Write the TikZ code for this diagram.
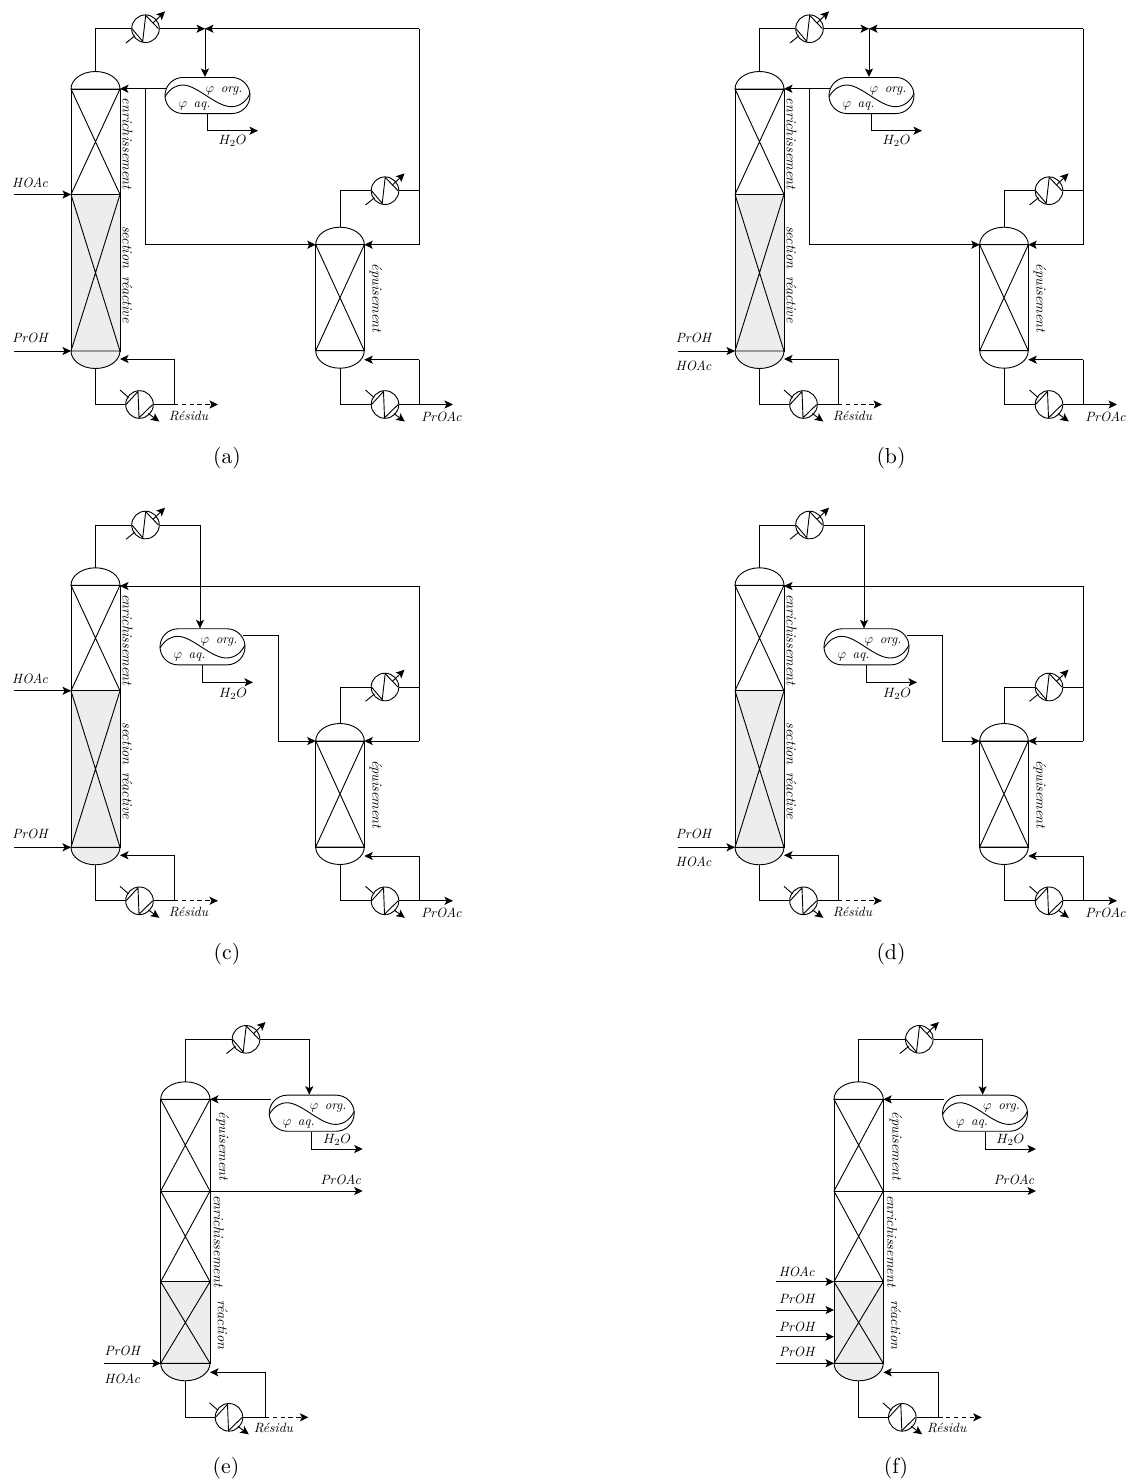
\documentclass[tikz,border=0pt]{standalone}
\usetikzlibrary{arrows.meta,shapes.misc}
\newcommand\HL[1]{\scalebox{.62}{\normalsize\itshape #1}}
\newcommand\VL[1]{\scalebox{.65}{\normalsize\itshape #1}}
\newcommand\DL[2]{\scalebox{.6}{\normalsize\itshape $\varphi$\hspace{.5em}#1}}
\tikzset{
  pipe/.style={line width=.42pt},
  arr/.style={pipe,-{Stealth[length=3.9pt,width=3.7pt,inset=.9pt]}},
  dasharr/.style={arr,dash pattern=on 2pt off 1.6pt},
  hx/.style={circle,draw,line width=.42pt,minimum size=12.7pt,inner sep=0pt},
  decanter/.style={rounded rectangle,draw,line width=.42pt,minimum width=39.1pt,minimum height=16.6pt,inner sep=0pt},
  lab/.style={inner sep=0pt},
  vlab/.style={lab,rotate=-90},
  captext/.style={font=\normalsize,inner sep=0pt},
  react/.style={fill=black!7}
}
% column shell: name, xl, xr, ytan, ybot, bottom fill style
\newcommand\ColShell[6]{%
  \pgfmathsetmacro\cx{(#2+#3)/2}\pgfmathsetmacro\rx{(#3-#2)/2}%
  \draw[pipe,#6] (#2,#5) .. controls (#2,#5+9.7) and (\cx-13.5,#5+17.5) .. (\cx,#5+17.5)
     .. controls (\cx+13.5,#5+17.5) and (#3,#5+9.7) .. (#3,#5) -- cycle;
  \draw[pipe] (#2,#4) .. controls (#2,#4-9.7) and (\cx-13.5,#4-17.5) .. (\cx,#4-17.5)
     .. controls (\cx+13.5,#4-17.5) and (#3,#4-9.7) .. (#3,#4) -- cycle;
  \coordinate (#1-top) at (\cx,#4-17.5);
  \coordinate (#1-bot) at (\cx,#5+17.5);
}
% packed section: xl, xr, y1, y2, style
\newcommand\Packed[5]{%
  \draw[pipe,#5] (#1,#3) rectangle (#2,#4);
  \draw[pipe] (#1,#3) -- (#2,#4) (#2,#3) -- (#1,#4);
}
\newcommand\Condenser[3]{%
  \node[hx] (#1) at (#2,#3) {};
  \begin{scope}[shift={(#2,#3)}]
    \draw[pipe] (-13.5,0) -- (-2.8,12.7) -- (0.2,-13.3) -- (13,0);
    \draw[pipe] (-19.5,14.3) -- (-10.5,7);
    \draw[arr] (7.5,-5.7) -- (19.5,-17.3);
  \end{scope}}
\newcommand\Reboiler[3]{%
  \node[hx] (#1) at (#2,#3) {};
  \begin{scope}[shift={(#2,#3)}]
    \draw[pipe] (-13.5,0) -- (-1.5,-13) -- (-0.5,13.3) -- (13.2,0);
    \draw[pipe] (-19.5,-14.5) -- (-11,-7);
    \draw[arr] (8.8,9) -- (19.8,17);
  \end{scope}}
\newcommand\Decanter[3]{%
  \node[decanter] (#1) at (#2,#3) {};
  \begin{scope}[shift={(#2,#3)}]
    \draw[pipe] (-42.5,1.2) .. controls (-37,-8) and (-30,-10.5) .. (-25,-10.5)
      .. controls (-10,-10.5) and (8,11.2) .. (24,11.2)
      .. controls (32,11.2) and (39,6) .. (42.5,-2);
    \node[lab] (#1-org) at (16.5,-5) {\DL{org.}{}};
    \node[lab] (#1-aq) at (-13,10.5) {\DL{aq.}{}};
  \end{scope}}
% reboiler loop of a column
\newcommand\BottomLoop[6]{% col, reb name, reb x, y, branch x, return y
  \Reboiler{#2}{#3}{#4}
  \coordinate (#2-br) at (#5,#4);
  \coordinate (#2-ret) at (#5,#6);
  \draw[pipe] (#1-bot) |- (#2.west);
  \draw[pipe] (#2.east) -- (#2-br) -- (#2-ret);
}
% common part of the two-column panels
\newcommand\TwoCol{%
  \Packed{71}{120}{89}{194.5}{}
  \Packed{71}{120}{194.5}{351}{react}
  \ColShell{c1}{71}{120}{89}{351}{react}
  \Packed{315.7}{364.3}{244.7}{350.7}{}
  \ColShell{c2}{315.7}{364.3}{244.7}{350.7}{}
  \node[vlab] (l1) at (127.5,143.5) {\VL{enrichissement}};
  \node[vlab] (l2) at (127.5,274.5) {\VL{section\hspace{.55em}r\'eactive}};
  \node[vlab] (l3) at (376,298) {\VL{\'epuisement}};
  \Condenser{k1}{145.5}{28.7}
  \draw[pipe] (c1-top) |- (k1.west);
  \Condenser{k2}{385}{190.7}
  \draw[pipe] (c2-top) |- (k2.west);
  \coordinate (v) at (419.3,190.7);
  \draw[pipe] (k2.east) -- (v);
  \coordinate (lo) at (419.3,244.7);
  \coordinate (c2r) at (364.3,244.7);
  \draw[arr] (lo) -- (c2r);
  \BottomLoop{c1}{r1}{139.5}{404.5}{174}{359}
  \coordinate (c1b) at (120,359);
  \draw[arr] (r1-ret) -- (c1b);
  \coordinate (res) at (218,404.5);
  \draw[dasharr] (r1-br) -- (res);
  \node[lab] (resl) at (188.5,415.7) {\HL{R\'esidu}};
  \BottomLoop{c2}{r2}{385}{404.5}{419.3}{359.7}
  \coordinate (c2b) at (364.3,359.7);
  \draw[arr] (r2-ret) -- (c2b);
  \coordinate (pr) at (453,404.5);
  \draw[arr] (r2-br) -- (pr);
  \node[lab] (prl) at (441.5,417) {\HL{PrOAc}};
}
% decanter on the column top (a, b)
\newcommand\PipingTop{%
  \Decanter{d}{207.5}{95.5}
  \coordinate (j) at (205,28.7);
  \coordinate (jr) at (419.3,28.7);
  \draw[arr] (k1.east) -- (j);
  \draw[pipe] (v) -- (lo);
  \draw[pipe] (v) -- (jr);
  \draw[arr] (jr) -- (j);
  \draw[arr] (j) -- (j |- d.north);
  \coordinate (do) at (166.3,88.8);
  \coordinate (c1r) at (120,88.8);
  \coordinate (bt) at (145,88.8);
  \coordinate (c2l) at (315.7,244.7);
  \draw[arr] (do) -- (c1r);
  \draw[arr] (bt) |- (c2l);
  \coordinate (w) at (258,130.7);
  \draw[arr] (d.south) |- (w);
  \node[lab] (wl) at (232.5,141) {\HL{$H_2O$}};
}
% decanter between the columns (c, d)
\newcommand\PipingMid{%
  \Decanter{d}{202.5}{150.5}
  \coordinate (j) at (200,28.7);
  \draw[arr] (k1.east) -| (j |- d.north);
  \coordinate (vt) at (419.3,89.7);
  \coordinate (c1r) at (120,89.7);
  \draw[pipe] (lo) -- (vt);
  \draw[arr] (vt) -- (c1r);
  \coordinate (do) at (243,139.4);
  \coordinate (m) at (278.3,139.4);
  \coordinate (c2l) at (315.7,244.7);
  \draw[arr] (do) -- (m) |- (c2l);
  \coordinate (w) at (253,186);
  \draw[arr] (d.south) |- (w);
  \node[lab] (wl) at (233,198) {\HL{$H_2O$}};
}
\newcommand\FeedSplit{%
  \coordinate (f1) at (14,194.5); \coordinate (f1e) at (71,194.5);
  \coordinate (f2) at (14,351); \coordinate (f2e) at (71,351);
  \draw[arr] (f1) -- (f1e);
  \draw[arr] (f2) -- (f2e);
  \node[lab] (hl) at (30,182.7) {\HL{HOAc}};
  \node[lab] (pl) at (30,338) {\HL{PrOH}};
}
\newcommand\FeedBottom{%
  \coordinate (f2) at (14,351); \coordinate (f2e) at (71,351);
  \draw[arr] (f2) -- (f2e);
  \node[lab] (pl) at (29.5,338) {\HL{PrOH}};
  \node[lab] (hl) at (29.5,365.7) {\HL{HOAc}};
}
% single column panels (e, f)
\newcommand\OneCol{%
  \Packed{71}{120.3}{1099.3}{1191}{}
  \Packed{71}{120.3}{1191}{1281.7}{}
  \Packed{71}{120.3}{1281.7}{1363.3}{react}
  \ColShell{c1}{71}{120.3}{1099.3}{1363.3}{react}
  \node[vlab] (l1) at (133,1146) {\VL{\'epuisement}};
  \node[vlab] (l2) at (129,1241) {\VL{enrichissement}};
  \node[vlab] (l3) at (133,1325) {\VL{r\'eaction}};
  \Condenser{k1}{156.3}{1039.3}
  \draw[pipe] (c1-top) |- (k1.west);
  \Decanter{d}{222}{1113.2}
  \coordinate (j) at (219.6,1039.3);
  \draw[arr] (k1.east) -| (j |- d.north);
  \coordinate (do) at (181,1099.3);
  \coordinate (c1r) at (120.3,1099.3);
  \draw[arr] (do) -- (c1r);
  \coordinate (w) at (273,1149);
  \draw[arr] (d.south) |- (w);
  \node[lab] (wl) at (247.3,1140) {\HL{$H_2O$}};
  \coordinate (ps) at (120.3,1191);
  \coordinate (pe) at (273,1191);
  \draw[arr] (ps) -- (pe);
  \node[lab] (prl) at (251,1180) {\HL{PrOAc}};
  \BottomLoop{c1}{r1}{139.3}{1417.3}{175.3}{1372.3}
  \coordinate (c1b) at (120.3,1372.3);
  \draw[arr] (r1-ret) -- (c1b);
  \coordinate (res) at (218.7,1417.3);
  \draw[dasharr] (r1-br) -- (res);
  \node[lab] (resl) at (183.7,1427.7) {\HL{R\'esidu}};
}
\begin{document}
\begin{tikzpicture}[x=.46pt,y=-.46pt]
\useasboundingbox (0,0) rectangle (1135,1484);
\begin{scope}[name prefix=a-]
  \TwoCol \PipingTop \FeedSplit
\end{scope}
\begin{scope}[name prefix=b-,shift={(664,0)}]
  \TwoCol \PipingTop
\end{scope}
\begin{scope}[name prefix=b-]
  \coordinate (f2) at (678,351); \coordinate (f2e) at (735,351);
  \draw[arr] (f2) -- (f2e);
  \node[lab] (pl) at (693.5,338) {\HL{PrOH}};
  \node[lab] (hl) at (693.5,365.7) {\HL{HOAc}};
\end{scope}
\begin{scope}[name prefix=c-,shift={(0,496.3)}]
  \TwoCol \PipingMid \FeedSplit
\end{scope}
\begin{scope}[name prefix=d-,shift={(664,496.3)}]
  \TwoCol \PipingMid \FeedBottom
\end{scope}
\begin{scope}[name prefix=e-,shift={(89.7,0)}]
  \OneCol
  \coordinate (f2) at (14.5,1363.3); \coordinate (f2e) at (71,1363.3);
  \draw[arr] (f2) -- (f2e);
  \node[lab] (pl) at (32.5,1351) {\HL{PrOH}};
  \node[lab] (hl) at (32.5,1379) {\HL{HOAc}};
\end{scope}
\begin{scope}[name prefix=f-,shift={(763,0)}]
  \OneCol
  \coordinate (g1) at (13,1281.7); \coordinate (g1e) at (71,1281.7);
  \coordinate (g2) at (13,1310); \coordinate (g2e) at (71,1310);
  \coordinate (g3) at (13,1336.7); \coordinate (g3e) at (71,1336.7);
  \coordinate (g4) at (13,1363.3); \coordinate (g4e) at (71,1363.3);
  \draw[arr] (g1) -- (g1e);
  \draw[arr] (g2) -- (g2e);
  \draw[arr] (g3) -- (g3e);
  \draw[arr] (g4) -- (g4e);
  \node[lab] (n1) at (33.7,1272.3) {\HL{HOAc}};
  \node[lab] (n2) at (33.7,1299.3) {\HL{PrOH}};
  \node[lab] (n3) at (33.7,1327) {\HL{PrOH}};
  \node[lab] (n4) at (33.7,1351.7) {\HL{PrOH}};
\end{scope}
\node[captext] (ca) at (227,458) {(a)};
\node[captext] (cb) at (891,458) {(b)};
\node[captext] (cc) at (227,954) {(c)};
\node[captext] (cd) at (891,954) {(d)};
\node[captext] (ce) at (226,1468) {(e)};
\node[captext] (cf) at (896,1468) {(f)};
\end{tikzpicture}
\end{document}
